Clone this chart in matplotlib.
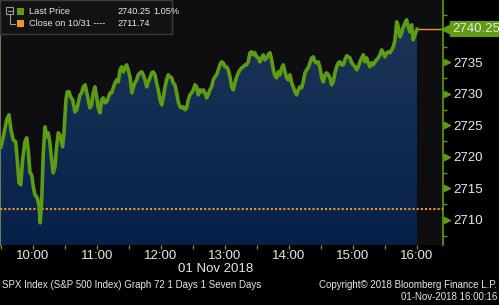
import numpy as np
import matplotlib
matplotlib.use("Agg")
import matplotlib.pyplot as plt
from matplotlib.colors import LinearSegmentedColormap
from matplotlib.patches import Rectangle
from matplotlib.lines import Line2D
import matplotlib.transforms as mtransforms

plt.rcParams['font.family'] = ['Liberation Sans', 'DejaVu Sans']

# SPX intraday, 01 Nov 2018 (minutes after 09:30 open, price)
minutes = [0, 2.2, 5.3, 7.5, 9.4, 11.5, 13.8, 15.3, 16.9, 18.5, 20.3, 22.5, 24.1, 25.6, 27.2,
           28.8, 30.3, 31.9, 34.0, 35.9, 36.8, 38.2, 39.7, 41.3, 42.8, 44.3, 45.9, 47.5, 49.0,
           50.6, 52.2, 53.7, 55.3, 56.9, 57.8, 59.1, 60.9, 62.2, 63.8, 65.3, 67.2, 69.4, 71.0,
           72.5, 74.1, 75.7, 77.2, 78.8, 80.3, 81.8, 83.4, 85.0, 86.5, 88.1, 89.7, 91.2, 92.8,
           94.4, 95.9, 97.5, 99.1, 100.6, 102.2, 103.8, 105.3, 106.9, 108.5, 110.0, 111.6,
           113.2, 114.7, 116.3, 117.8, 119.3, 120.9, 122.8, 124.7, 127.2, 128.7, 130.3, 131.9,
           133.4, 135.0, 136.6, 138.1, 139.7, 141.3, 142.8, 144.4, 145.9, 147.5, 149.1, 150.7,
           152.2, 153.8, 155.3, 156.8, 158.4, 160.0, 161.5, 163.1, 164.7, 166.2, 167.8, 169.4,
           170.9, 172.5, 174.1, 175.6, 177.2, 178.8, 180.3, 181.9, 183.5, 185.0, 186.6, 188.2,
           189.7, 191.3, 192.8, 194.3, 195.9, 197.5, 199.0, 200.6, 202.2, 203.7, 205.3, 206.9,
           208.4, 210.0, 211.6, 213.1, 214.7, 216.3, 217.8, 219.4, 221.0, 222.5, 224.1, 225.7,
           227.2, 228.8, 230.3, 231.8, 233.4, 235.0, 236.5, 238.1, 239.7, 241.2, 242.8, 244.4,
           245.9, 247.5, 249.1, 250.6, 252.2, 253.8, 255.3, 256.9, 258.5, 260.0, 261.6, 263.2,
           264.7, 266.3, 267.8, 269.3, 270.9, 272.5, 274.0, 275.6, 277.2, 278.7, 280.3, 281.9,
           283.4, 285.0, 286.6, 288.1, 289.7, 291.3, 292.8, 294.4, 295.9, 297.5, 299.1, 300.7,
           302.2, 303.8, 305.3, 306.8, 308.4, 310.0, 311.5, 313.1, 314.7, 316.2, 317.8, 319.4,
           320.9, 322.5, 324.1, 325.6, 327.2, 328.8, 330.3, 331.9, 333.5, 335.0, 336.6, 338.2,
           339.7, 341.3, 342.8, 344.3, 345.9, 347.5, 349.0, 350.6, 352.2, 353.7, 355.3, 356.9,
           358.4, 360.0, 361.6, 363.1, 364.7, 366.3, 367.8, 369.4, 371.0, 372.5, 374.1, 375.7,
           377.2, 378.8, 380.3, 381.8, 383.4, 385.0, 386.5, 387.7, 390.0]
prices = [2721.59, 2723.17, 2725.87, 2726.67, 2724.29, 2722.70, 2722.38, 2719.52, 2715.87,
          2715.56, 2719.52, 2722.38, 2723.02, 2721.11, 2717.46, 2717.14, 2715.24, 2713.97,
          2713.49, 2712.06, 2709.52, 2713.17, 2720.63, 2724.76, 2723.17, 2723.81, 2722.22,
          2719.52, 2717.46, 2718.41, 2721.59, 2723.81, 2723.49, 2722.22, 2721.59, 2723.81,
          2729.05, 2730.32, 2730.32, 2729.52, 2729.05, 2727.14, 2727.46, 2728.57, 2729.84,
          2730.16, 2731.11, 2731.43, 2730.32, 2729.05, 2727.78, 2728.25, 2730.16, 2731.11,
          2729.52, 2727.78, 2726.98, 2729.05, 2729.37, 2728.57, 2728.73, 2729.37, 2730.16,
          2730.16, 2730.95, 2731.75, 2732.22, 2731.90, 2733.81, 2734.29, 2733.49, 2734.13,
          2734.60, 2733.81, 2732.70, 2730.16, 2731.43, 2732.22, 2733.02, 2733.33, 2733.49,
          2733.02, 2732.22, 2731.11, 2731.90, 2732.54, 2733.33, 2733.49, 2733.02, 2731.75,
          2730.63, 2729.05, 2728.25, 2729.52, 2731.11, 2732.22, 2733.02, 2732.70, 2732.54,
          2731.75, 2731.43, 2730.16, 2728.73, 2727.94, 2727.78, 2727.94, 2727.46, 2727.78,
          2729.05, 2729.84, 2730.16, 2730.63, 2731.43, 2731.11, 2729.84, 2730.63, 2730.32,
          2730.63, 2730.16, 2729.37, 2729.84, 2730.63, 2731.11, 2732.22, 2732.70, 2733.02,
          2733.81, 2734.60, 2735.08, 2734.92, 2734.29, 2734.29, 2733.81, 2732.70, 2731.11,
          2730.63, 2731.75, 2732.70, 2733.33, 2733.81, 2734.13, 2734.29, 2734.60, 2734.60,
          2735.08, 2736.51, 2736.67, 2736.19, 2736.51, 2735.87, 2735.71, 2735.08, 2735.71,
          2736.19, 2735.40, 2735.71, 2736.19, 2736.51, 2735.40, 2733.81, 2732.86, 2732.54,
          2733.49, 2733.02, 2734.13, 2734.60, 2733.49, 2732.54, 2732.22, 2733.02, 2731.75,
          2731.11, 2730.32, 2729.84, 2730.63, 2731.11, 2730.95, 2731.90, 2733.33, 2733.81,
          2734.13, 2734.92, 2735.71, 2735.87, 2735.08, 2734.92, 2735.08, 2734.13, 2732.54,
          2731.90, 2733.02, 2733.33, 2733.02, 2732.54, 2731.43, 2731.90, 2733.33, 2734.29,
          2734.92, 2735.08, 2734.60, 2734.60, 2735.40, 2736.03, 2735.87, 2735.71, 2734.92,
          2734.60, 2734.29, 2733.81, 2734.29, 2735.08, 2735.71, 2736.19, 2735.08, 2735.71,
          2734.92, 2734.29, 2734.92, 2734.60, 2735.08, 2735.40, 2735.71, 2736.19, 2736.98,
          2736.51, 2735.87, 2736.51, 2736.67, 2736.51, 2736.98, 2737.46, 2738.57, 2741.43,
          2740.63, 2739.05, 2739.68, 2740.63, 2741.27, 2741.75, 2740.63, 2739.84, 2740.95,
          2738.57, 2739.21, 2740.25]

last_price = 2740.25
prev_close = 2711.74
pct_change = "1.05%"
hour_labels = ["10:00", "11:00", "12:00", "13:00", "14:00", "15:00", "16:00"]
y_ticks = [2710, 2715, 2720, 2725, 2730, 2735]

GREEN = '#5e9c12'
ORANGE = '#f39424'
TXT = '#e8e8e8'

W, H = 499, 305
def fx(x):
    return x / W
def fy(y):
    return 1 - y / H

fig = plt.figure(figsize=(W / 100, H / 100), dpi=100, facecolor='black')
ax = fig.add_axes([0, fy(245), fx(443), 245 / H])
ax.set_facecolor('#0e0e11')

xmin, xmax = -0.9, 414.4
ymin, ymax = 2706.0, 2744.9

# gradient area under the price line
grad = np.linspace(0, 1, 256).reshape(-1, 1)
cmap = LinearSegmentedColormap.from_list('fillgrad', ['#1f3758', '#06204a'])
im = ax.imshow(grad, extent=[xmin, xmax, ymin, ymax], aspect='auto', cmap=cmap,
               origin='upper', zorder=1)
poly = ax.fill_between(minutes, prices, ymin, color='none', lw=0)
im.set_clip_path(poly.get_paths()[0], transform=ax.transData)

ax.plot(minutes, prices, color=GREEN, lw=2.6, zorder=4, solid_joinstyle='round')
ax.axhline(prev_close, color=ORANGE, lw=1.5, ls=(0, (1, 1)), zorder=3)
ax.plot([minutes[-1], xmax], [last_price, last_price], color=ORANGE, lw=1, zorder=3)

ax.set_xlim(xmin, xmax)
ax.set_ylim(ymin, ymax)

# axes styling
for s in ['top', 'bottom']:
    ax.spines[s].set_visible(False)
ax.spines['right'].set_color(GREEN)
ax.spines['left'].set_color('#6a7a5a')
ax.spines['right'].set_linewidth(1.2)

hour_pos = [30 + 60 * i for i in range(len(hour_labels))]
ax.set_xticks(hour_pos)
ax.set_xticklabels(hour_labels)
ax.set_xticks([p + 30 for p in hour_pos[:-1]] + [0], minor=True)
ax.tick_params(axis='x', which='both', colors=GREEN, labelcolor=TXT, labelsize=9.5,
               length=3, width=1, pad=0.5)

ax.yaxis.tick_right()
ax.set_yticks(y_ticks)
ax.set_yticks(np.arange(2707.5, 2745, 5), minor=True)
ax.tick_params(axis='y', which='major', length=0, pad=7.5, labelcolor=TXT, labelsize=9.5)
ax.tick_params(axis='y', which='minor', length=3, width=1, colors=GREEN)

# triangle tick markers on the right axis
trans = mtransforms.blended_transform_factory(ax.transAxes, ax.transData)
ax.plot([1.0085] * len(y_ticks), y_ticks, ls='none', marker='>', ms=5, color=GREEN,
        transform=trans, clip_on=False, zorder=5)

# last price tag
ax.plot([1.0075], [last_price], marker='<', ms=7, color=GREEN, transform=trans,
        clip_on=False, zorder=5)
ax.text(1.02, last_price, f"{last_price:.2f}", transform=trans, color=TXT, fontsize=9.5,
        va='center', ha='left', zorder=6,
        bbox=dict(boxstyle='square,pad=0.15', fc=GREEN, ec='none'))

# legend box
fig.patches.append(Rectangle((0, fy(34)), fx(172), 34 / H, transform=fig.transFigure,
                             fc='#121212', ec='#3c3c3c', lw=1, zorder=10))
fig.patches.append(Rectangle((fx(6), fy(14)), fx(7), 7 / H, transform=fig.transFigure,
                             fc='none', ec='#9a9a9a', lw=0.8, zorder=11))
fig.lines.append(Line2D([fx(7.5), fx(11.5)], [fy(10.5), fy(10.5)], transform=fig.transFigure,
                        color='#9a9a9a', lw=0.8, zorder=11))
fig.lines.append(Line2D([fx(9.5), fx(9.5), fx(15)], [fy(14), fy(24), fy(24)],
                        transform=fig.transFigure, color='#9a9a9a', lw=0.8, zorder=11))
fig.patches.append(Rectangle((fx(17), fy(15)), fx(7), 7 / H, transform=fig.transFigure,
                             fc=GREEN, ec='none', zorder=11))
fig.patches.append(Rectangle((fx(17), fy(27)), fx(7), 7 / H, transform=fig.transFigure,
                             fc=ORANGE, ec='none', zorder=11))
leg_kw = dict(color=TXT, fontsize=6.6, va='center', zorder=12)
fig.text(fx(29), fy(11), "Last Price", **leg_kw)
fig.text(fx(117), fy(11), f"{last_price:.2f}", **leg_kw)
fig.text(fx(153), fy(11), pct_change, **leg_kw)
fig.text(fx(29), fy(23), "Close on 10/31 ----", **leg_kw)
fig.text(fx(117), fy(23), f"{prev_close:.2f}", **leg_kw)

# bottom texts
fig.text(fx(216), fy(269), "01 Nov 2018", color=TXT, fontsize=9.5, ha='center', va='center')
fig.text(fx(2), fy(285), "SPX Index (S&P 500 Index) Graph 72 1 Days 1 Seven Days",
         color=TXT, fontsize=7, ha='left', va='center')
fig.text(fx(497), fy(285), "Copyright\u00a9 2018 Bloomberg Finance L.P.",
         color=TXT, fontsize=7, ha='right', va='center')
fig.text(fx(497), fy(297), "01-Nov-2018 16:00:16",
         color=TXT, fontsize=7, ha='right', va='center')

fig.savefig('out.png', dpi=100, facecolor='black')
